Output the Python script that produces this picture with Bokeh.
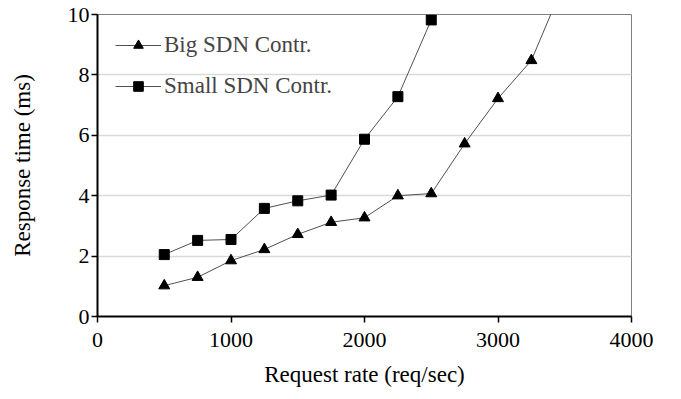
from bokeh.plotting import figure
from bokeh.models import Range1d, Legend, LegendItem, FixedTicker
from bokeh.embed import file_html
from bokeh.resources import INLINE

rate = [500, 750, 1000, 1250, 1500, 1750, 2000, 2250, 2500, 2750, 3000, 3250, 3500]
big = [1.02, 1.30, 1.85, 2.22, 2.72, 3.12, 3.27, 4.00, 4.07, 5.72, 7.22, 8.48, 11.1]
rate_small = [500, 750, 1000, 1250, 1500, 1750, 2000, 2250, 2500]
small = [2.05, 2.52, 2.55, 3.58, 3.83, 4.02, 5.87, 7.28, 9.82]
x_ticks = [0, 1000, 2000, 3000, 4000]
y_ticks = [0, 2, 4, 6, 8, 10]

FONT = "Liberation Serif"

p = figure(width=665, height=399, output_backend="svg", toolbar_location=None,
           x_range=Range1d(0, 4000), y_range=Range1d(0, 10),
           min_border_left=97, min_border_right=34, min_border_top=14, min_border_bottom=83)

p.outline_line_color = "#808080"
p.outline_line_width = 1
p.xgrid.grid_line_color = None
p.ygrid.grid_line_color = "#d9d9d9"
p.ygrid.grid_line_width = 1.5

for ax in (p.xaxis, p.yaxis):
    ax.axis_line_color = "black"
    ax.axis_line_width = 2
    ax.major_tick_line_color = "black"
    ax.major_tick_line_width = 1.5
    ax.major_tick_in = 0
    ax.major_tick_out = 6
    ax.minor_tick_line_color = None
    ax.major_label_text_font = FONT
    ax.major_label_text_font_size = "22px"
    ax.major_label_text_color = "black"
    ax.axis_label_text_font = FONT
    ax.axis_label_text_font_size = "23px"
    ax.axis_label_text_font_style = "normal"
    ax.axis_label_text_color = "black"

p.xaxis.ticker = FixedTicker(ticks=x_ticks)
p.yaxis.ticker = FixedTicker(ticks=y_ticks)
p.xaxis.axis_label = "Request rate (req/sec)"
p.yaxis.axis_label = "Response time (ms)"
p.xaxis.axis_label_standoff = 12
p.yaxis.axis_label_standoff = 30
p.xaxis.major_label_standoff = 10
p.yaxis.major_label_standoff = 2

l1 = p.line(rate, big, line_color="#505050", line_width=1)
m1 = p.scatter(rate, big, marker="triangle", size=11, fill_color="black", line_color="black")
l2 = p.line(rate_small, small, line_color="#505050", line_width=1)
m2 = p.scatter(rate_small, small, marker="square", size=10, fill_color="black", line_color="black")

legend = Legend(items=[LegendItem(label="Big SDN Contr.", renderers=[l1, m1]),
                       LegendItem(label="Small SDN Contr.", renderers=[l2, m2])],
                location="top_left")
legend.glyph_width = 46
legend.glyph_height = 24
legend.label_height = 24
legend.label_text_font = FONT
legend.label_text_font_size = "23px"
legend.label_standoff = 3
legend.spacing = 15
legend.border_line_color = None
legend.background_fill_alpha = 0
legend.margin = 18
legend.padding = 4
p.add_layout(legend)

open("out.html", "w").write(file_html(p, INLINE))
